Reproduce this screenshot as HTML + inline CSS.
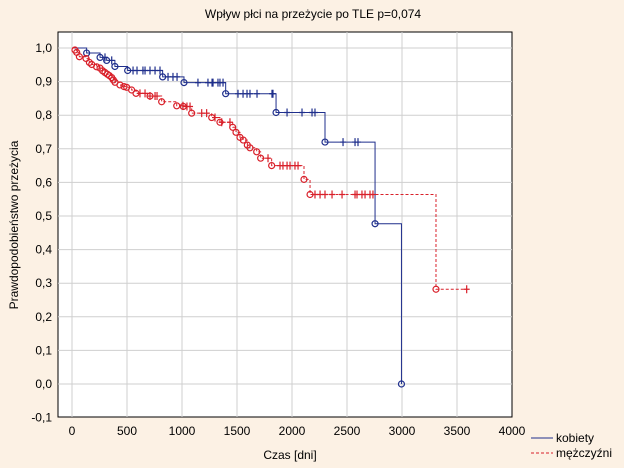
<!DOCTYPE html>
<html><head><meta charset="utf-8"><style>
body{margin:0;background:#fcf1e4;}
svg{display:block;font-family:"Liberation Sans",sans-serif;}
</style></head><body>
<svg id="chart" width="624" height="468">
<rect x="0" y="0" width="624" height="468" fill="#fcf1e4"/>
<text x="313" y="18" font-size="12" text-anchor="middle">Wpływ płci na przeżycie po TLE p=0,074</text>
<rect x="58" y="32" width="454" height="385" fill="#fff" stroke="#000" stroke-width="1"/>
<g id="grid"></g>
<g id="ticks"></g>
<g id="series"></g>
<text transform="translate(18,225) rotate(-90)" font-size="12" text-anchor="middle">Prawdopodobieństwo przeżycia</text>
<text x="290" y="459" font-size="12" text-anchor="middle">Czas [dni]</text>
<g>
<line x1="531" y1="438" x2="553" y2="438" stroke="#1f2f8c" stroke-width="1"/>
<text x="556" y="442" font-size="12">kobiety</text>
<line x1="531" y1="453" x2="553" y2="453" stroke="#d9202a" stroke-width="1" stroke-dasharray="3,2"/>
<text x="556" y="457" font-size="12">mężczyźni</text>
</g>
</svg>
<script>
const xTicks=[0,500,1000,1500,2000,2500,3000,3500,4000];
const yTicks=[-0.1,0,0.1,0.2,0.3,0.4,0.5,0.6,0.7,0.8,0.9,1.0];
const blueEventTimes=[133,255,315,390,506,824,1018,1397,1855,2300,2755,2995];
const blueEventSurv=[0.985,0.972,0.963,0.945,0.933,0.914,0.897,0.864,0.808,0.72,0.477,0];
const blueCensor=[300,361,555,591,645,664,709,755,800,873,918,955,1145,1236,1273,1282,1327,1345,1373,1509,1555,1591,1618,1682,1818,1827,1955,2091,2182,2209,2464,2573,2600];
const redEventTimes=[27,43,67,127,158,179,224,255,279,300,321,339,361,376,391,436,473,497,542,582,709,815,952,1012,1088,1270,1345,1461,1491,1527,1557,1594,1618,1679,1715,1815,2109,2164,3309];
const redEventSurv=[0.994,0.987,0.974,0.969,0.957,0.951,0.944,0.94,0.932,0.927,0.922,0.918,0.912,0.905,0.898,0.89,0.885,0.883,0.875,0.865,0.857,0.84,0.828,0.826,0.806,0.793,0.779,0.764,0.749,0.734,0.726,0.711,0.703,0.691,0.672,0.65,0.609,0.564,0.282];
const redCensor=[618,664,709,755,773,1009,1045,1073,1179,1224,1300,1361,1436,1782,1891,1918,1955,1982,2027,2055,2209,2255,2300,2364,2455,2573,2591,2636,2664,2709,2736,3588];
const NS='http://www.w3.org/2000/svg';
const X=d=>72+d*0.11, Y=v=>384-v*336;
function mk(parent,tag,attrs){const e=document.createElementNS(NS,tag);for(const k in attrs)e.setAttribute(k,attrs[k]);parent.appendChild(e);return e;}
const grid=document.getElementById('grid'),ticks=document.getElementById('ticks'),series=document.getElementById('series');
xTicks.forEach(t=>{
  if(t<4000){const l=mk(grid,'line',{x1:X(t),x2:X(t),y1:32,y2:417,stroke:'#cfcfcf'});
  
  }
  const tx=mk(ticks,'text',{x:X(t),y:435,'font-size':12,'text-anchor':'middle'});tx.textContent=t;
  
  
});
yTicks.forEach(t=>{
  if(t>-0.1){const l=mk(grid,'line',{x1:58,x2:512,y1:Y(t),y2:Y(t),stroke:'#cfcfcf'});
  
  }
  const tx=mk(ticks,'text',{x:52,y:Y(t)+4,'font-size':12,'text-anchor':'end'});tx.textContent=t.toFixed(1).replace('.',',');
  
  
});
function draw(times,surv,cens,color,dash,end,name){
  let d='M'+X(0)+','+Y(1);let prev=1;
  times.forEach((t,i)=>{d+=' H'+X(t)+' V'+Y(surv[i]);prev=surv[i];});
  d+=' H'+X(end);
  const p=mk(series,'path',{d:d,fill:'none',stroke:color,'stroke-width':1});
  if(dash)p.setAttribute('stroke-dasharray','3,2');
  
  
  times.forEach((t,i)=>{const c=mk(series,'circle',{cx:X(t),cy:Y(surv[i]),r:3,fill:'none',stroke:color,'stroke-width':1.2});
    
    });
  const S=t=>{let s=1;times.forEach((tt,i)=>{if(tt<=t)s=surv[i];});return s;};
  cens.forEach(t=>{const y=Y(S(t));const m=mk(series,'path',{d:'M'+X(t)+','+(y-4)+' V'+(y+4)+' M'+(X(t)-3)+','+y+' H'+(X(t)+3),stroke:color,'stroke-width':1.2});
    
    });
}
draw(blueEventTimes,blueEventSurv,blueCensor,'#1f2f8c',false,2995,'kobiety');
draw(redEventTimes,redEventSurv,redCensor,'#d9202a',true,3588,'mezczyzni');
</script>
</body></html>
